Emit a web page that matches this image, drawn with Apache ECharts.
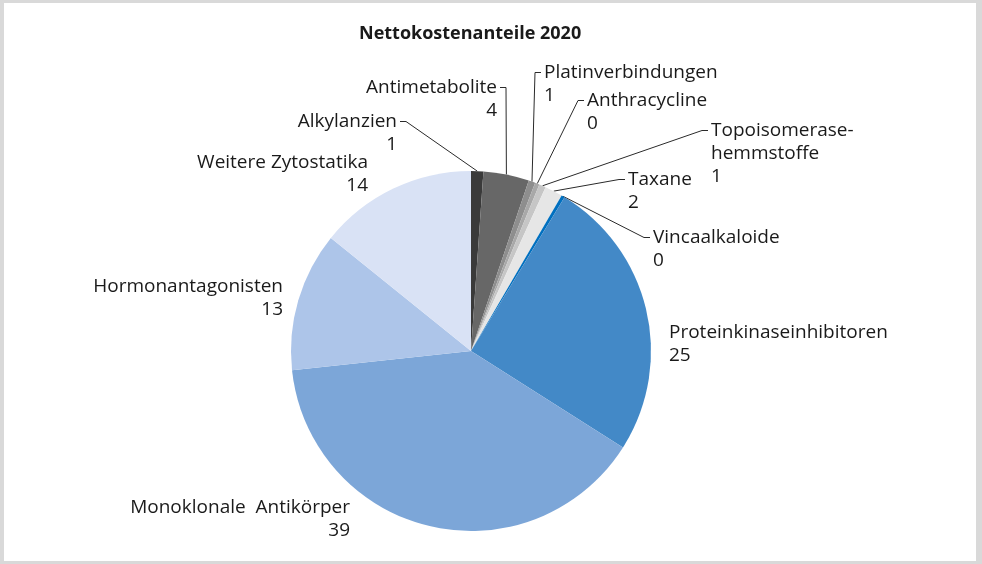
<!DOCTYPE html>
<html>
<head>
<meta charset="utf-8">
<script src="https://cdn.jsdelivr.net/npm/echarts@6/dist/echarts.min.js"></script>
<style>
  html, body { margin: 0; padding: 0; background: #ffffff; }
  #frame { position: absolute; left: 0; top: 0; width: 982px; height: 564px; box-sizing: border-box;
           border-style: solid; border-color: #d9d9d9; border-width: 3px 6px 3px 4px; }
  #chart { position: absolute; left: 0; top: 0; width: 982px; height: 564px; }
</style>
</head>
<body>
<div id="frame"></div>
<div id="chart"></div>
<script>
// ---- data ----
const title = 'Nettokostenanteile 2020';
const categories = [
  'Alkylanzien', 'Antimetabolite', 'Platinverbindungen', 'Anthracycline',
  'Topoisomerase-\nhemmstoffe', 'Taxane', 'Vincaalkaloide',
  'Proteinkinaseinhibitoren', 'Monoklonale  Antikörper', 'Hormonantagonisten', 'Weitere Zytostatika'
];
const values = [1.1, 4.1, 0.6, 0.4, 0.6, 1.6, 0.3, 25.3, 39.3, 12.5, 14.2];
const colors = ['#3a3a3a', '#676767', '#8e8e8e', '#a8a8a8', '#c6c6c6', '#e6e6e6', '#0070c0',
                '#4389c7', '#7ca6d8', '#adc5e9', '#d9e2f5'];

// ---- label layout (text anchor, alignment, leader line) ----
const LINE_H = 23;
const labelLayouts = [
  { x: 397, y: 110, align: 'right', line: true },
  { x: 497, y: 76,  align: 'right', line: true },
  { x: 544, y: 61,  align: 'left',  line: true },
  { x: 587, y: 89,  align: 'left',  line: true },
  { x: 711, y: 119, align: 'left',  line: true },
  { x: 628, y: 168, align: 'left',  line: true },
  { x: 653, y: 226, align: 'left',  line: true },
  { x: 669, y: 321, align: 'left',  line: false },
  { x: 350, y: 496, align: 'right', line: false },
  { x: 283, y: 275, align: 'right', line: false },
  { x: 368, y: 151, align: 'right', line: false }
];

const chart = echarts.init(document.getElementById('chart'), null, { renderer: 'canvas' });
const FONT = '"Open Sans", "Noto Sans", sans-serif';

const data = categories.map((name, i) => ({
  name: name,
  value: values[i],
  itemStyle: { color: colors[i] },
  labelLine: { show: labelLayouts[i].line }
}));

chart.setOption({
  backgroundColor: 'transparent',
  animation: false,
  title: {
    text: title,
    left: 354,
    top: 20,
    textStyle: { fontFamily: FONT, fontSize: 18, fontWeight: 'bold', color: '#1a1a1a' }
  },
  series: [{
    type: 'pie',
    center: [471, 351],
    radius: [0, 180],
    startAngle: 90,
    clockwise: true,
    avoidLabelOverlap: false,
    itemStyle: { borderWidth: 0 },
    emphasis: { disabled: true },
    label: {
      show: true,
      position: 'outside',
      fontFamily: FONT,
      fontSize: 19,
      lineHeight: LINE_H,
      color: '#1a1a1a',
      overflow: 'none',
      formatter: p => p.name + '\n' + Math.round(p.value)
    },
    labelLine: {
      show: true,
      lineStyle: { color: '#2a2a2a', width: 1 }
    },
    labelLayout: function (p) {
      const L = labelLayouts[p.dataIndex];
      const res = { x: L.x, y: L.y, align: L.align, verticalAlign: 'top' };
      if (L.line && p.labelLinePoints) {
        const ay = L.y + LINE_H / 2;
        const dir = L.align === 'right' ? 1 : -1;
        res.labelLinePoints = [p.labelLinePoints[0], [L.x + dir * 9, ay], [L.x + dir * 3, ay]];
      }
      return res;
    },
    data: data
  }]
});
</script>
</body>
</html>
